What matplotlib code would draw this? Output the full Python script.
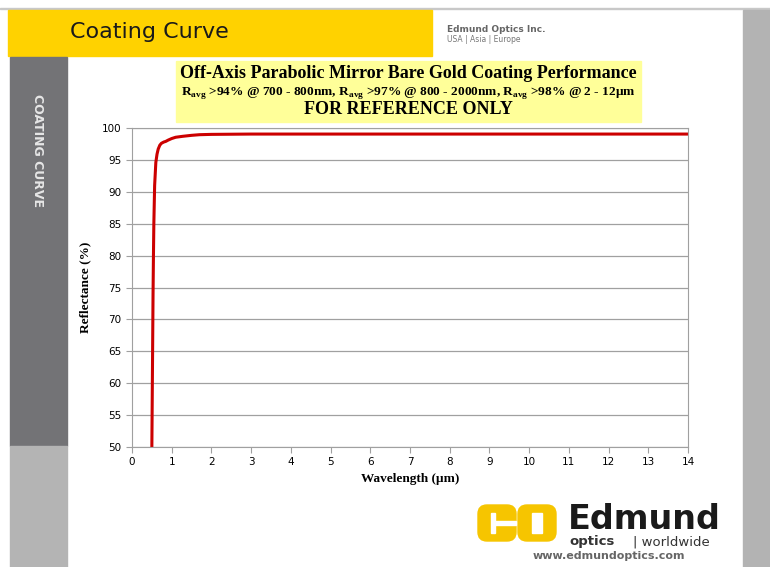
import numpy as np
import matplotlib.pyplot as plt
from matplotlib.patches import Rectangle, FancyBboxPatch

plt.rcParams['mathtext.fontset'] = 'custom'
plt.rcParams['mathtext.rm'] = 'Liberation Serif:bold'

# reflectance curve
wavelength = [0.50, 0.51, 0.52, 0.53, 0.54, 0.55, 0.57, 0.60, 0.63, 0.66, 0.70, 0.74,
              0.80, 0.85, 0.91, 1.00, 1.10, 1.28, 1.50, 1.70, 2.00, 3.0, 4.0, 5.0,
              6.0, 7.0, 8.0, 9.0, 10.0, 11.0, 12.0, 13.0, 14.0]
reflectance = [50.0, 58.0, 66.0, 74.0, 80.0, 85.0, 91.0, 94.6, 95.9, 96.7, 97.3, 97.6,
               97.8, 97.9, 98.1, 98.35, 98.55, 98.7, 98.85, 98.95, 99.0, 99.05, 99.05, 99.05,
               99.05, 99.05, 99.05, 99.05, 99.05, 99.05, 99.05, 99.05, 99.05]

x_ticks = list(range(0, 15))
y_ticks = list(range(50, 101, 5))

W, H = 770, 567
fig = plt.figure(figsize=(W / 100, H / 100), dpi=100)

# page decoration in pixel coords
bg = fig.add_axes([0, 0, 1, 1])
bg.set_xlim(0, W)
bg.set_ylim(H, 0)
bg.axis('off')
bg.add_patch(Rectangle((0, 8), W, 1.2, color='#c8c8c8'))
bg.add_patch(Rectangle((8, 10), 424, 46, color='#ffd200'))
bg.add_patch(Rectangle((743, 10), 27, H - 10, color='#b3b3b3'))
bg.add_patch(Rectangle((10, 57), 57, 389, color='#737376'))
bg.add_patch(Rectangle((10, 446), 57, H - 446, color='#b4b4b4'))
bg.add_patch(Rectangle((176, 61), 465, 61, color='#ffff99'))

bg.text(70, 32, 'Coating Curve', fontsize=16, family='Liberation Sans Narrow',
        color='#1a1a1a', va='center', ha='left')
bg.text(447, 29, 'Edmund Optics Inc.', fontsize=6.5, color='#666666', fontweight='bold',
        va='center')
bg.text(447, 40, 'USA | Asia | Europe', fontsize=5.5, color='#777777', va='center')
bg.text(37, 151, 'COATING CURVE', fontsize=9, color='#e6e6e6', fontweight='bold',
        rotation=-90, ha='center', va='center', family='Liberation Sans Narrow')

bg.text(408, 73, 'Off-Axis Parabolic Mirror Bare Gold Coating Performance',
        fontsize=13, family='Liberation Serif', fontweight='bold', ha='center', va='center')
bg.text(408, 93, r'R$_{\rm avg}$ >94% @ 700 - 800nm, R$_{\rm avg}$ >97% @ 800 - 2000nm, '
        r'R$_{\rm avg}$ >98% @ 2 - 12µm',
        fontsize=9.6, family='Liberation Serif', fontweight='bold', ha='center', va='center')
bg.text(408, 110, 'FOR REFERENCE ONLY', fontsize=13, family='Liberation Serif',
        fontweight='bold', ha='center', va='center')

# logo
bg.add_patch(FancyBboxPatch((478, 505), 38, 36, boxstyle='round,pad=0,rounding_size=9',
                            color='#f6c500'))
bg.add_patch(FancyBboxPatch((518, 505), 38, 36, boxstyle='round,pad=0,rounding_size=9',
                            color='#f6c500'))
bg.add_patch(Rectangle((491, 513), 4, 20, color='white'))
bg.add_patch(Rectangle((495, 521), 21, 4, color='white'))
bg.add_patch(Rectangle((532, 513), 10, 20, color='white'))
bg.text(568, 529, 'Edmund', fontsize=24, fontweight='bold', color='#1a1a1a',
        va='baseline', ha='left')
bg.text(569, 545, 'optics', fontsize=9.5, fontweight='bold', color='#333333',
        va='baseline', ha='left')
bg.text(633, 545, '| worldwide', fontsize=9.5, color='#333333', va='baseline', ha='left')
bg.text(533, 556, 'www.edmundoptics.com', fontsize=8, fontweight='bold', color='#666666',
        va='center', ha='left')

# chart
ax = fig.add_axes([132 / W, (H - 447) / H, 556 / W, 319 / H])
ax.plot(wavelength, reflectance, color='#cc0000', lw=2.2)
ax.set_xlim(0, 14)
ax.set_ylim(50, 100)
ax.set_xticks(x_ticks)
ax.set_yticks(y_ticks)
ax.grid(axis='y', color='#a0a0a0', lw=0.9)
ax.set_axisbelow(True)
for s in ax.spines.values():
    s.set_color('#a0a0a0')
ax.tick_params(colors='#a0a0a0', labelcolor='black', labelsize=7.5, length=4, direction='out')
ax.set_xlabel('Wavelength (µm)', family='Liberation Serif', fontweight='bold', fontsize=9.5)
ax.set_ylabel('Reflectance (%)', family='Liberation Serif', fontweight='bold', fontsize=9.5,
              labelpad=8)

fig.savefig('out.png', dpi=100)
